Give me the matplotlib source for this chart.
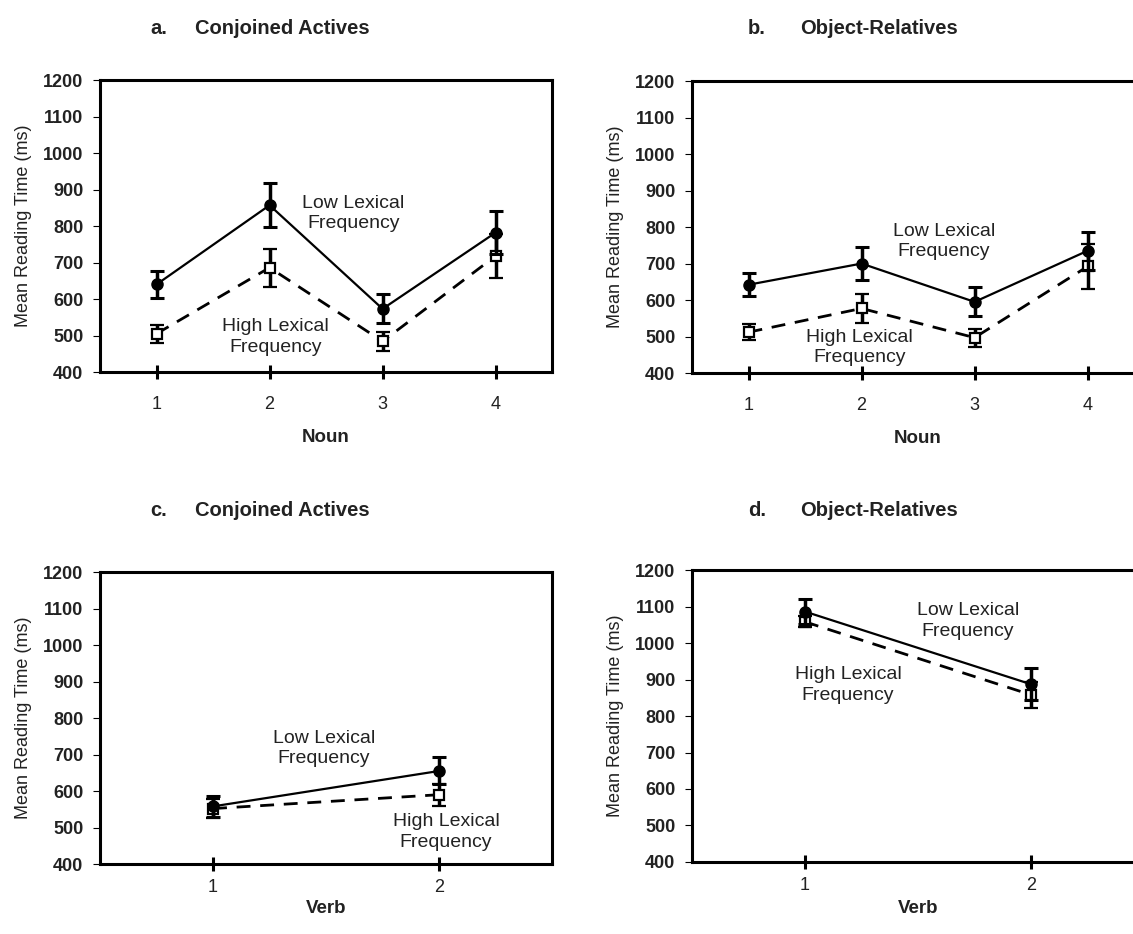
import numpy as np
import matplotlib
matplotlib.use("Agg")
import matplotlib.pyplot as plt

plt.rcParams['font.family'] = ['Liberation Sans', 'DejaVu Sans']

# --- data (ms) ---
noun_pos = [1, 2, 3, 4]
verb_pos = [1, 2]

# a. Conjoined Actives, nouns
a_low = [640, 857, 573, 782]
a_low_err = [37, 60, 40, 58]
a_high = [505, 686, 484, 718]
a_high_err = [25, 52, 26, 60]

# b. Object-Relatives, nouns
b_low = [642, 700, 595, 735]
b_low_err = [32, 45, 40, 52]
b_high = [512, 577, 497, 692]
b_high_err = [22, 40, 25, 62]

# c. Conjoined Actives, verbs
c_low = [558, 655]
c_low_err = [28, 37]
c_high = [552, 590]
c_high_err = [25, 30]

# d. Object-Relatives, verbs
d_low = [1086, 887]
d_low_err = [35, 44]
d_high = [1058, 858]
d_high_err = [15, 36]

yticks = [400, 500, 600, 700, 800, 900, 1000, 1100, 1200]
low_txt = "Low Lexical\nFrequency"
high_txt = "High Lexical\nFrequency"

fig = plt.figure(figsize=(11.33, 9.34), dpi=100)

W = 0.399
H = 0.3126
axes_pos = {
    'a': [0.0883, 0.6017, W, H],
    'b': [0.6108, 0.6006, W, H],
    'c': [0.0883, 0.0749, W, H],
    'd': [0.6108, 0.0771, W, H],
}


def draw_panel(ax, x, low, low_err, high, high_err, xlim, xlabel, low_xy, high_xy,
               tick_pad=12, label_pad=12):
    ax.errorbar(x, high, yerr=high_err, color='black', ls=(0, (5, 3.5)), lw=2,
                marker='s', ms=7.5, mfc='white', mec='black', mew=1.6,
                elinewidth=2.5, capsize=5, capthick=2.2, zorder=3)
    ax.errorbar(x, low, yerr=low_err, color='black', ls='-', lw=1.6,
                marker='o', ms=8, mfc='black', mec='black',
                elinewidth=2.5, capsize=5, capthick=2.2, zorder=4)
    ax.set_xlim(*xlim)
    ax.set_ylim(400, 1200)
    ax.set_yticks(yticks)
    ax.set_xticks(x)
    for s in ax.spines.values():
        s.set_linewidth(2.2)
    ax.tick_params(axis='y', direction='out', length=5, width=0.8, pad=7,
                   labelsize=13, labelcolor='#222222')
    for lab in ax.get_yticklabels():
        lab.set_fontweight('bold')
    ax.tick_params(axis='x', direction='inout', length=10, width=2.2, pad=tick_pad,
                   labelsize=13, labelcolor='#222222')
    ax.set_ylabel("Mean Reading Time (ms)", fontsize=13, labelpad=8, color='#222222')
    ax.set_xlabel(xlabel, fontsize=13.5, fontweight='bold', labelpad=label_pad,
                  color='#222222')
    ax.text(low_xy[0], low_xy[1], low_txt, ha='center', va='center',
            fontsize=14, linespacing=1.25, color='#222222')
    ax.text(high_xy[0], high_xy[1], high_txt, ha='center', va='center',
            fontsize=14, linespacing=1.25, color='#222222')


ax_a = fig.add_axes(axes_pos['a'])
draw_panel(ax_a, noun_pos, a_low, a_low_err, a_high, a_high_err,
           (0.5, 4.5), "Noun", (2.74, 835), (2.05, 496))

ax_b = fig.add_axes(axes_pos['b'])
draw_panel(ax_b, noun_pos, b_low, b_low_err, b_high, b_high_err,
           (0.5, 4.5), "Noun", (2.73, 761), (1.98, 471))

ax_c = fig.add_axes(axes_pos['c'])
draw_panel(ax_c, verb_pos, c_low, c_low_err, c_high, c_high_err,
           (0.5, 2.5), "Verb", (1.49, 716), (2.03, 488), tick_pad=6, label_pad=3)

ax_d = fig.add_axes(axes_pos['d'])
draw_panel(ax_d, verb_pos, d_low, d_low_err, d_high, d_high_err,
           (0.5, 2.5), "Verb", (1.72, 1060), (1.19, 885), tick_pad=6, label_pad=4)

# panel titles
title_kw = dict(fontsize=14.5, fontweight='bold', va='center', ha='left',
                color='#222222')
fig.text(150 / 1133, 0.970, "a.", **title_kw)
fig.text(195 / 1133, 0.970, "Conjoined Actives", **title_kw)
fig.text(748 / 1133, 0.970, "b.", **title_kw)
fig.text(800 / 1133, 0.970, "Object-Relatives", **title_kw)
fig.text(150 / 1133, 1 - 511 / 934, "c.", **title_kw)
fig.text(195 / 1133, 1 - 511 / 934, "Conjoined Actives", **title_kw)
fig.text(748 / 1133, 1 - 510 / 934, "d.", **title_kw)
fig.text(800 / 1133, 1 - 510 / 934, "Object-Relatives", **title_kw)

fig.savefig("out.png", dpi=100)
